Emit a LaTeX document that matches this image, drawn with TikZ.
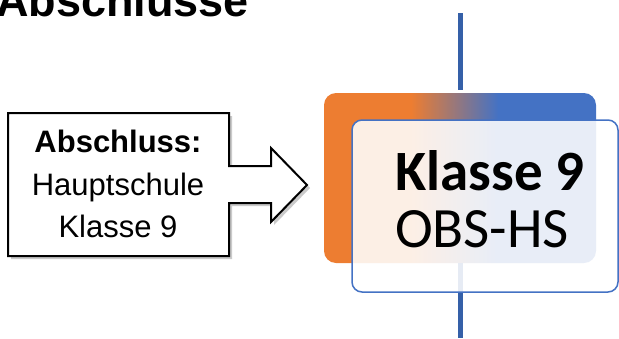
\documentclass[tikz,border=0pt]{standalone}
\usepackage{fontspec}
\setmainfont{Liberation Sans}
\newfontfamily\carlito{Carlito}
\usetikzlibrary{shadows}
\definecolor{accorange}{HTML}{ED7D31}
\definecolor{accblue}{HTML}{4472C4}
\definecolor{linkblue}{HTML}{3560A8}
\pgfdeclarehorizontalshading{obshade}{100bp}{color(0bp)=(accorange); color(41bp)=(accorange); color(57bp)=(accblue); color(100bp)=(accblue)}
\tikzset{
  connline/.style={linkblue, line width=5pt},
  backbox/.style={rectangle, rounded corners=12pt, shade, shading=obshade, minimum width=272pt, minimum height=170pt, inner sep=0pt},
  frontbox/.style={rectangle, rounded corners=10pt, draw=accblue, line width=1.5pt, fill=white, fill opacity=0.88, minimum width=266pt, minimum height=172pt, inner sep=0pt},
  calloutshape/.style={draw=black, line width=2pt, fill=white, line join=miter, drop shadow={shadow xshift=3pt, shadow yshift=-3pt, fill=black!35, opacity=0.6}},
  calltext/.style={anchor=base, inner sep=0pt, font=\fontsize{31}{43}\selectfont},
  bigtext/.style={anchor=base west, inner sep=0pt, font=\carlito\fontsize{57}{58}\selectfont}
}
\begin{document}
\begin{tikzpicture}[x=1pt,y=-1pt]
\useasboundingbox (0,0) rectangle (619,338);
% title (cut off at top)
\node[anchor=base west, inner sep=0pt, font=\bfseries\fontsize{45}{50}\selectfont] (title) at (-4,16) {Abschlüsse};
% connector lines
\coordinate (ltop) at (460,13);
\coordinate (lbot) at (460,338);
\node[backbox] (back) at (460,178) {};
\draw[connline] (ltop) -- ([yshift=3pt]back.north);
\draw[connline] (back.south) -- (lbot);
% front box
\node[frontbox] (front) at (485,206) {};
\node[bigtext, font=\carlito\bfseries\fontsize{57}{58}\selectfont] (k9) at (395,190) {Klasse 9};
\node[bigtext] (obs) at (395,247) {OBS-HS};
% callout with arrow
\draw[calloutshape] (8,113) -- (229,113) -- (229,166) -- (271,166) -- (271,148) -- (307,185) -- (271,222) -- (271,203) -- (229,203) -- (229,256) -- (8,256) -- cycle;
\node[calltext, font=\bfseries\fontsize{31}{43}\selectfont] (abs) at (118,152) {Abschluss:};
\node[calltext] (haupt) at (118,195) {Hauptschule};
\node[calltext] (kl9) at (118,237) {Klasse 9};
\end{tikzpicture}
\end{document}
